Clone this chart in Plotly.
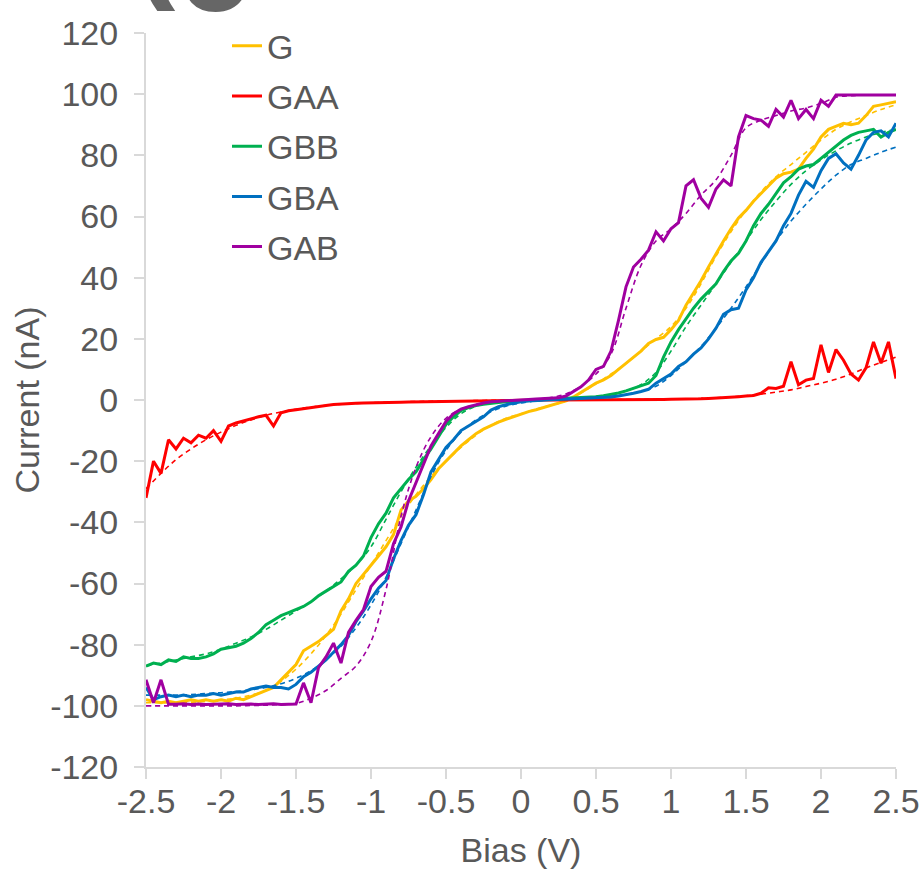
import plotly.graph_objects as go

# ---------------- data ----------------
BIAS = [round(-2.5 + 0.05 * i, 2) for i in range(101)]       # V, measured sweep grid
FIT_BIAS = [round(-2.5 + 0.1 * i, 1) for i in range(51)]      # V, fit curve grid

G = [-98, -98.5, -99, -98.5, -99, -98.5, -98, -98.5, -98, -98.5,
     -98, -98.5, -97.5, -98, -97, -96, -95, -94, -91.5, -89,
     -86.5, -82, -80.5, -79, -77, -75, -69, -65, -60, -57,
     -54, -51, -48, -44, -36, -33, -31.5, -29, -26, -22.5,
     -20, -17.5, -15, -13, -11, -9.5, -8.3, -7.2, -6.3, -5.4,
     -4.6, -3.8, -3.2, -2.5, -1.8, -1, -0.3, 1, 2.5, 3.8,
     5.5, 6.6, 8, 10, 12, 14, 16, 18.5, 19.8, 20.5,
     23, 26, 31, 35, 39, 43.5, 48, 52, 56, 59.5,
     62, 65, 67.5, 70, 72.5, 74, 74.5, 75.5, 79, 82,
     86, 88.5, 89.5, 90.5, 90, 90.5, 93, 96, 96.5, 97,
     97.5]

GAA = [-32, -20, -24, -13, -16, -12.5, -14, -11.5, -12.5, -10,
       -13.5, -8.5, -7.5, -6.8, -6, -5.5, -5, -8.5, -4.2, -3.5,
       -3.2, -2.8, -2.4, -2.1, -1.8, -1.5, -1.3, -1.2, -1.1, -1.0,
       -0.9, -0.85, -0.8, -0.75, -0.7, -0.65, -0.6, -0.55, -0.5, -0.45,
       -0.4, -0.35, -0.3, -0.25, -0.2, -0.15, -0.1, -0.1, -0.05, 0,
       0, 0, 0, 0, 0, 0, 0, 0.05, 0.05, 0.05,
       0.1, 0.1, 0.1, 0.1, 0.15, 0.15, 0.15, 0.2, 0.2, 0.2,
       0.25, 0.25, 0.3, 0.35, 0.4, 0.5, 0.6, 0.8, 0.9, 1.1,
       1.3, 1.5, 2.2, 4, 3.8, 4.5, 12.5, 5, 6.5, 7,
       18, 9, 16.5, 13, 8.5, 6.5, 10.5, 19, 12, 19,
       7]

GBB = [-87, -86, -86.5, -85, -85.5, -84, -84.5, -84.5, -84, -83,
       -81.5, -81, -80.5, -79.5, -78, -76, -73.5, -72, -70.5, -69.5,
       -68.5, -67.5, -66, -64, -62.5, -61, -59.5, -56, -54, -51,
       -45, -40.5, -37, -32, -29, -26, -23.5, -19.5, -16, -12,
       -8, -5.5, -3.5, -2.5, -1.8, -1.4, -1, -0.8, -0.6, -0.4,
       -0.2, 0, 0.1, 0.2, 0.3, 0.4, 0.5, 0.6, 0.7, 0.9,
       1.1, 1.4, 1.8, 2.3, 3, 3.8, 4.6, 5.5, 8, 14,
       19, 23, 26.5, 30, 33, 35.5, 38, 42, 45.5, 48,
       52, 57, 61, 64, 67.5, 71, 73, 75.5, 76.5, 77,
       79, 81, 83, 85, 86.5, 87.5, 88, 88.5, 86, 87.5,
       88.5]

GBA = [-94, -98, -97, -96.5, -97, -96.5, -97, -96.5, -96.5, -96,
       -96.5, -96, -95.5, -95.5, -94.5, -94, -93.5, -94, -94, -94.5,
       -93, -90.5, -89, -87, -85, -82.5, -80, -77, -72.5, -69,
       -65, -61.5, -59, -52, -46, -41, -37.5, -31, -23.5, -19.5,
       -15.5, -13, -10, -8.5, -7, -5.5, -3.3, -2.2, -1.5, -1,
       -0.6, -0.3, -0.1, 0, 0.1, 0.2, 0.3, 0.4, 0.5, 0.6,
       0.7, 0.8, 1, 1.3, 1.7, 2.2, 2.8, 3.5, 5.5, 7,
       8.5, 11, 12.5, 15, 17, 20, 23.5, 28, 29.5, 30,
       36, 40, 45, 48.5, 52, 57, 61, 67, 71.5, 69.5,
       75, 79, 80.5, 77.5, 75.5, 80, 85, 87.5, 88, 86,
       90.5]

GAB = [-91.5, -99, -91.5, -99.5, -99.5, -99.3, -99.6, -99.4, -99.6, -99.5,
       -99.5, -99.3, -99.6, -99.5, -99.4, -99.6, -99.5, -99.3, -99.6, -99.5,
       -99.4, -92.5, -99, -87.5, -84, -79.5, -86, -76, -72, -68.5,
       -61, -58, -56, -47, -41.5, -33, -27, -20.5, -15, -11,
       -7, -4.5, -3, -2.2, -1.5, -1, -0.6, -0.4, -0.2, 0,
       0.1, 0.2, 0.3, 0.4, 0.5, 0.7, 1.3, 2.8, 4.3, 6.5,
       10, 11, 16, 26, 37, 43.5, 46, 49, 55, 52,
       56, 58, 70, 72, 66, 63, 69, 72, 70, 86,
       93, 92, 91.5, 89.5, 95, 92.5, 98, 92, 95, 92,
       98, 96, 99.7, 99.7, 99.7, 99.7, 99.7, 99.7, 99.7, 99.7,
       99.7]

FIT_G = [-99, -99, -99, -98.8, -98.5, -98, -97.5, -96.5, -95, -92,
         -88, -83, -77, -70, -62, -54, -46, -38, -31, -25,
         -20, -15.5, -11.5, -8.3, -6, -4.5, -3, -1.7, -0.3, 2.3,
         5.3, 8.5, 12, 16, 20, 24, 30, 38, 47, 55,
         62, 68, 73, 77, 81, 85, 88.5, 91, 93, 95,
         96.5]

FIT_GAA = [-29, -24, -19.5, -16, -13, -10.5, -8.3, -6.5, -5, -3.9,
           -3, -2.3, -1.8, -1.4, -1.1, -0.9, -0.75, -0.6, -0.5, -0.4,
           -0.3, -0.25, -0.2, -0.1, -0.05, 0, 0.05, 0.05, 0.1, 0.1,
           0.1, 0.15, 0.15, 0.2, 0.2, 0.25, 0.35, 0.5, 0.7, 1,
           1.4, 1.9, 2.6, 3.3, 4.4, 5.5, 6.8, 8.5, 10.5, 12.3,
           14]

FIT_GBB = [-87, -86, -85, -84, -83, -81.5, -79.5, -77.5, -75, -72,
           -69, -66, -62.5, -58.5, -54, -48, -39, -30, -22, -15,
           -9, -4.5, -2, -1, -0.5, -0.2, 0, 0.2, 0.4, 0.7,
           1.1, 1.8, 3, 5, 9, 16, 24, 31, 38, 45,
           52, 59, 65, 70.5, 75, 78.5, 81.5, 84, 86, 87.5,
           88.5]

FIT_GBA = [-96.5, -96.5, -96.5, -96.3, -96, -95.7, -95.3, -94.8, -94, -92.8,
           -91, -88.5, -85, -80.5, -74.5, -67, -58, -47, -36, -25,
           -16.5, -10.5, -6.5, -3.8, -2, -1, -0.3, 0.1, 0.3, 0.5,
           0.8, 1.2, 1.8, 2.8, 4.5, 8, 12.5, 17.5, 23.5, 30,
           37, 44.5, 52, 58.5, 64, 69, 73.5, 77, 79, 81,
           82.7]

FIT_GAB = [-100, -100, -100, -100, -100, -100, -100, -99.9, -99.8, -99.6,
           -99.2, -97.5, -95, -91, -87, -79, -62, -38, -22, -12,
           -6, -3, -1.5, -0.7, -0.3, 0, 0.3, 0.8, 2, 4.5,
           8.5, 15, 30, 44, 52, 56, 61, 67, 72, 80,
           89, 91.5, 93, 94.5, 95.5, 97, 99, 99.5, 99.7, 99.7,
           99.7]

NAMES = ["G", "GAA", "GBB", "GBA", "GAB"]
MEASURED = [G, GAA, GBB, GBA, GAB]
FITS = [FIT_G, FIT_GAA, FIT_GBB, FIT_GBA, FIT_GAB]
COLORS = ["#FFC000", "#FF0000", "#00B050", "#0070C0", "#A000A0"]

X_TICKS = [-2.5, -2, -1.5, -1, -0.5, 0, 0.5, 1, 1.5, 2, 2.5]
X_TICK_TEXT = ["-2.5", "-2", "-1.5", "-1", "-0.5", "0", "0.5", "1", "1.5", "2", "2.5"]
Y_TICKS = [-120, -100, -80, -60, -40, -20, 0, 20, 40, 60, 80, 100, 120]
Y_TICK_TEXT = ["-120", "-100", "-80", "-60", "-40", "-20", "0", "20", "40", "60", "80", "100", "120"]

# ---------------- figure ----------------
TEXT = "#595959"
AXIS = "#D9D9D9"
FONT = "Liberation Sans, Arial, Helvetica, sans-serif"

fig = go.Figure()
for name, ys, fit, col in zip(NAMES, MEASURED, FITS, COLORS):
    fig.add_trace(go.Scatter(x=BIAS, y=ys, mode="lines", name=name,
                             legendgroup=name,
                             line=dict(color=col, width=3)))
    fig.add_trace(go.Scatter(x=FIT_BIAS, y=fit, mode="lines", name=name + " fit",
                             legendgroup=name, showlegend=False,
                             line=dict(color=col, width=1.6, dash="5px,4px",
                                       shape="spline")))

axis_common = dict(showline=True, linecolor=AXIS, linewidth=2, mirror=False,
                   ticks="outside", ticklen=10, tickwidth=2, tickcolor=AXIS,
                   showgrid=False, zeroline=False,
                   tickfont=dict(family=FONT, size=34, color=TEXT),
                   automargin=False)

fig.update_xaxes(range=[-2.5, 2.5], tickmode="array", tickvals=X_TICKS,
                 ticktext=X_TICK_TEXT, ticklabelstandoff=-7,
                 title=dict(text="Bias (V)", font=dict(family=FONT, size=34, color=TEXT),
                            standoff=19),
                 **axis_common)
fig.update_yaxes(range=[-120, 120], tickmode="array", tickvals=Y_TICKS,
                 ticktext=Y_TICK_TEXT, ticklabelstandoff=9,
                 title=dict(text="Current (nA)", font=dict(family=FONT, size=34, color=TEXT),
                            standoff=0),
                 **axis_common)

fig.update_layout(
    width=922, height=869,
    margin=dict(l=146, r=26, t=33, b=102),
    paper_bgcolor="white", plot_bgcolor="white",
    font=dict(family=FONT, size=34, color=TEXT),
    showlegend=True,
    legend=dict(x=0.108, y=1.0215, xanchor="left", yanchor="top",
                bgcolor="rgba(0,0,0,0)", font=dict(family=FONT, size=34, color=TEXT),
                tracegroupgap=3, itemwidth=30, traceorder="grouped"),
    annotations=[
        dict(text="<b>(</b>", xref="paper", yref="paper", x=-0.021, y=1.0265,
             xanchor="left", yanchor="bottom", showarrow=False,
             font=dict(family=FONT, size=130, color="#666666")),
        dict(text="<b>c</b>", xref="paper", yref="paper", x=0.04, y=0.9885,
             xanchor="left", yanchor="bottom", showarrow=False,
             font=dict(family=FONT, size=130, color="#666666")),
    ],
)

fig.write_html("out.html", config={"displayModeBar": False},
               post_script="document.body.style.margin='0px';")
